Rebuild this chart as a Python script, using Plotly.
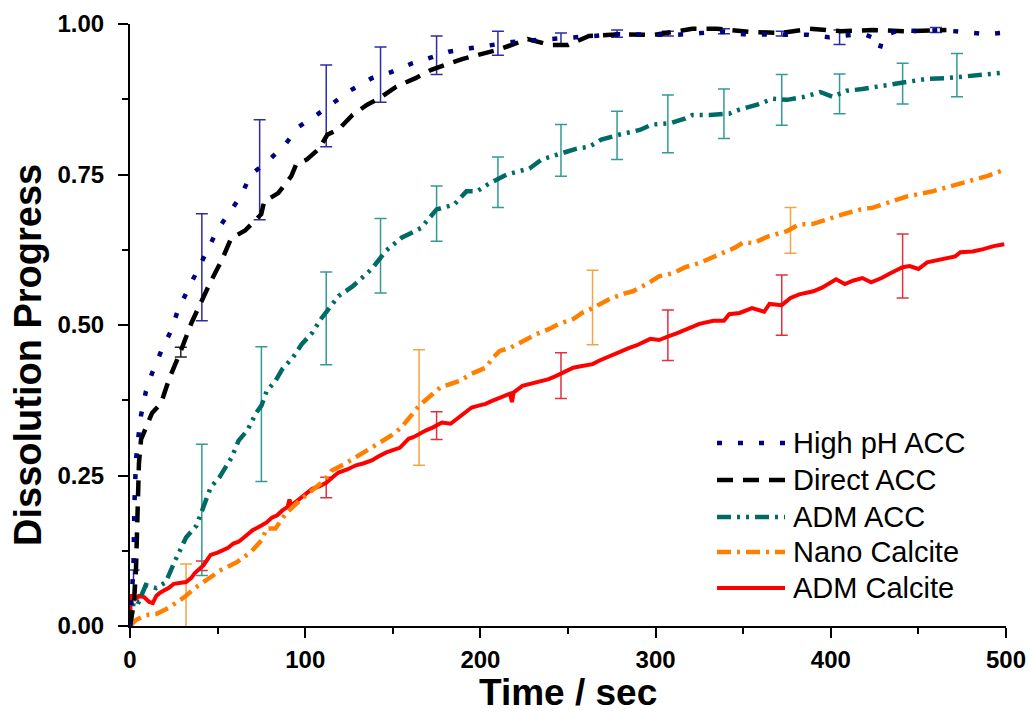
import plotly.graph_objects as go

# ---- series data: time (s) and dissolution progress ----
high_ph_t = [0, 1, 2, 2.5, 3.4, 4.6, 6.3, 9.1, 12.6, 18.3, 23.4, 27.4, 32.6, 38.3, 44, 49.7, 56.6,
             63.4, 69, 78, 88.6, 96.6, 107, 116.6, 126, 138, 149, 160.6, 172, 182, 195, 205, 218,
             230, 242, 254, 264, 276, 289, 300, 312, 326, 339, 350, 362, 375, 387, 399, 412, 420,
             426, 428, 430, 439, 451, 463, 477, 489, 497]
high_ph_v = [0, 0.05, 0.1, 0.2, 0.275, 0.31, 0.35, 0.39, 0.42, 0.46, 0.49, 0.525, 0.556, 0.586, 0.62,
             0.657, 0.686, 0.715, 0.75, 0.77, 0.80, 0.83, 0.85, 0.87, 0.89, 0.91, 0.92, 0.934, 0.945,
             0.954, 0.96, 0.965, 0.97, 0.973, 0.975, 0.977, 0.98, 0.983, 0.982, 0.982, 0.982, 0.985,
             0.987, 0.983, 0.983, 0.982, 0.982, 0.978, 0.982, 0.982, 0.975, 0.959, 0.98, 0.99, 0.988,
             0.99, 0.987, 0.983, 0.985]

direct_t = [0, 1.1, 2.3, 3.4, 4, 4.6, 5.1, 6.3, 9, 12.6, 17.7, 22.3, 29, 35, 45.7, 52.6, 57.7, 65.7,
            74.9, 76.6, 84.6, 92, 94.9, 101, 108, 112.6, 119.4, 127, 135.4, 142, 152, 163, 172, 190,
            211, 227, 240, 250, 262, 280, 299, 321, 335, 353, 371, 388, 406, 424, 442, 460, 466]
direct_v = [0, 0.02, 0.04, 0.093, 0.154, 0.2, 0.27, 0.31, 0.33, 0.354, 0.37, 0.41, 0.457, 0.503, 0.57,
            0.609, 0.644, 0.657, 0.684, 0.705, 0.719, 0.747, 0.767, 0.775, 0.793, 0.816, 0.826, 0.849,
            0.866, 0.876, 0.896, 0.91, 0.924, 0.942, 0.958, 0.975, 0.965, 0.965, 0.98, 0.983, 0.982,
            0.992, 0.992, 0.987, 0.985, 0.992, 0.988, 0.99, 0.988, 0.99, 0.99]

adm_acc_t = [0, 1.1, 2.3, 5, 9, 15, 20.5, 25, 32, 38, 41, 46, 51, 58, 62, 67, 72, 75, 78, 83, 87, 93,
             98, 104, 109, 113, 119, 127, 138, 146, 155, 166, 175, 185, 192, 198, 205, 215, 228, 235,
             246, 255, 262, 269, 279, 291, 298, 308, 317, 321, 331, 342, 348, 358, 367, 375, 385, 394,
             401, 409, 418, 426, 438, 447, 455, 466, 475, 483, 491, 498]
adm_acc_v = [0, 0.02, 0.043, 0.04, 0.068, 0.063, 0.073, 0.104, 0.147, 0.167, 0.19, 0.23, 0.247, 0.28,
             0.308, 0.325, 0.354, 0.366, 0.39, 0.407, 0.427, 0.446, 0.468, 0.487, 0.51, 0.526, 0.548,
             0.564, 0.593, 0.623, 0.645, 0.661, 0.692, 0.70, 0.722, 0.722, 0.735, 0.75, 0.76, 0.775,
             0.785, 0.793, 0.796, 0.808, 0.816, 0.824, 0.833, 0.835, 0.843, 0.849, 0.849, 0.851, 0.858,
             0.866, 0.876, 0.874, 0.879, 0.887, 0.879, 0.889, 0.892, 0.896, 0.901, 0.906, 0.909, 0.91,
             0.912, 0.915, 0.917, 0.919]

nano_t = [0, 3.4, 9, 15, 22, 31, 37, 46, 52, 61, 69, 75, 78, 83, 89, 97, 104, 111, 115, 123, 132, 142,
          149, 155, 161, 165, 177, 188, 195, 203, 207, 211, 217, 224, 232, 239, 245, 253, 258, 264,
          269, 275, 283, 287, 295, 302, 310, 317, 325, 335, 345, 350, 356, 364, 375, 382, 390, 407,
          417, 424, 435, 444, 458, 470, 481, 490, 499]
nano_v = [0, 0.01, 0.018, 0.02, 0.03, 0.048, 0.063, 0.08, 0.093, 0.106, 0.123, 0.142, 0.162, 0.162,
          0.187, 0.209, 0.225, 0.242, 0.258, 0.27, 0.286, 0.303, 0.316, 0.33, 0.352, 0.366, 0.396,
          0.407, 0.419, 0.429, 0.445, 0.457, 0.462, 0.473, 0.485, 0.493, 0.502, 0.51, 0.52, 0.528,
          0.536, 0.545, 0.553, 0.556, 0.568, 0.581, 0.586, 0.596, 0.603, 0.615, 0.628, 0.637, 0.636,
          0.647, 0.656, 0.667, 0.668, 0.684, 0.692, 0.695, 0.705, 0.714, 0.722, 0.732, 0.74, 0.748,
          0.758]

adm_cal_t = [0, 0.5, 1.5, 3, 5, 8, 11, 13, 15, 17, 20, 22, 25, 27, 32, 35, 37, 42, 46, 50, 53, 56, 59,
             62, 65, 70, 75, 78, 81, 84, 87, 90, 91, 92, 95, 98, 101, 104, 108, 112, 116, 119, 124,
             129, 133, 138, 142, 146, 150, 154, 157, 159, 162, 165, 169, 173, 178, 183, 186, 189, 192,
             195, 199, 203, 206, 211, 215, 217, 218, 219, 224, 228, 232, 236, 239, 243, 246, 250, 253,
             258, 264, 268, 271, 275, 278, 282, 285, 289, 292, 297, 302, 305, 308, 312, 315, 319, 325,
             333, 339, 342, 348, 355, 362, 365, 372, 377, 382, 390, 395, 403, 408, 413, 418, 423, 429,
             434, 441, 445, 450, 455, 462, 471, 474, 481, 487, 493, 499]
adm_cal_v = [0.01, 0.05, 0.05, 0.045, 0.05, 0.048, 0.04, 0.038, 0.05, 0.055, 0.06, 0.063, 0.07, 0.071,
             0.073, 0.08, 0.088, 0.101, 0.118, 0.122, 0.126, 0.13, 0.137, 0.14, 0.147, 0.159, 0.167,
             0.172, 0.18, 0.184, 0.192, 0.198, 0.21, 0.2, 0.207, 0.214, 0.22, 0.228, 0.232, 0.238,
             0.248, 0.255, 0.26, 0.267, 0.27, 0.275, 0.282, 0.288, 0.292, 0.296, 0.305, 0.311, 0.314,
             0.319, 0.325, 0.33, 0.338, 0.336, 0.343, 0.349, 0.356, 0.363, 0.366, 0.369, 0.373, 0.379,
             0.384, 0.386, 0.372, 0.388, 0.399, 0.402, 0.404, 0.407, 0.41, 0.415, 0.419, 0.425, 0.429,
             0.432, 0.435, 0.441, 0.445, 0.45, 0.454, 0.458, 0.462, 0.466, 0.47, 0.477, 0.475, 0.479,
             0.482, 0.486, 0.49, 0.494, 0.502, 0.507, 0.507, 0.518, 0.52, 0.528, 0.522, 0.535, 0.533,
             0.545, 0.551, 0.556, 0.562, 0.576, 0.568, 0.574, 0.578, 0.571, 0.578, 0.586, 0.596, 0.598,
             0.593, 0.604, 0.609, 0.614, 0.621, 0.622, 0.626, 0.631, 0.634]

# ---- error bars: time, mean, +/- error ----
high_ph_err_t = [2, 41, 74, 112, 143, 175, 210, 246, 278, 307, 339, 372, 405, 460]
high_ph_err_v = [0.07, 0.596, 0.758, 0.864, 0.916, 0.948, 0.968, 0.975, 0.984, 0.984, 0.988, 0.984, 0.978, 0.99]
high_ph_err_e = [0.023, 0.089, 0.083, 0.068, 0.046, 0.032, 0.02, 0.01, 0.006, 0.004, 0.004, 0.004, 0.012, 0.004]

direct_err_t = [29]
direct_err_v = [0.455]
direct_err_e = [0.008]

adm_acc_err_t = [41, 75, 112, 143, 175, 210, 246, 278, 307, 339, 372, 405, 441, 472]
adm_acc_err_v = [0.193, 0.352, 0.511, 0.615, 0.685, 0.737, 0.79, 0.815, 0.834, 0.851, 0.874, 0.884, 0.901, 0.915]
adm_acc_err_e = [0.109, 0.112, 0.077, 0.062, 0.046, 0.042, 0.043, 0.04, 0.048, 0.041, 0.042, 0.033, 0.034, 0.036]

nano_err_t = [32, 165, 264, 377]
nano_err_v = [0.05, 0.363, 0.529, 0.657]
nano_err_e = [0.053, 0.096, 0.062, 0.038]

adm_cal_err_t = [41, 112, 175, 246, 307, 372, 441]
adm_cal_err_v = [0.1, 0.23, 0.333, 0.416, 0.483, 0.533, 0.598]
adm_cal_err_e = [0.008, 0.017, 0.023, 0.038, 0.042, 0.05, 0.053]

x_ticks = [0, 100, 200, 300, 400, 500]
y_ticks = [0.0, 0.25, 0.5, 0.75, 1.0]

# name, color, error-bar color, dash pattern, width, data, error data
series = [
    ("ADM Calcite", "#ff0000", "#e2303c", "solid", 4, adm_cal_t, adm_cal_v,
     adm_cal_err_t, adm_cal_err_v, adm_cal_err_e),
    ("Nano Calcite", "#ff7f00", "#f5a445", "14px,6px,3px,6px", 4.5, nano_t, nano_v,
     nano_err_t, nano_err_v, nano_err_e),
    ("ADM ACC", "#006a66", "#339a96", "14px,6px,3px,6px,3px,6px", 4.5, adm_acc_t, adm_acc_v,
     adm_acc_err_t, adm_acc_err_v, adm_acc_err_e),
    ("Direct ACC", "#000000", "#222222", "16px,10px", 4.5, direct_t, direct_v,
     direct_err_t, direct_err_v, direct_err_e),
    ("High pH ACC", "#000080", "#2c2ca6", "5px,16px", 4.5, high_ph_t, high_ph_v,
     high_ph_err_t, high_ph_err_v, high_ph_err_e),
]

fig = go.Figure()

# error bars underneath the curves
for name, col, ecol, dash, w, t, v, et, ev, ee in series:
    fig.add_trace(go.Scatter(
        x=et, y=ev, mode="markers", showlegend=False, hoverinfo="skip",
        marker=dict(size=1, color="rgba(0,0,0,0)"),
        error_y=dict(type="data", array=ee, visible=True, color=ecol, thickness=1.5, width=6),
    ))

for name, col, ecol, dash, w, t, v, et, ev, ee in series:
    fig.add_trace(go.Scatter(
        x=t, y=v, mode="lines", name=name, showlegend=False,
        line=dict(color=col, width=w, dash=dash),
    ))

# plot-area geometry in pixels, used to place the hand-built legend and titles
PL, PR, PT, PB = 130, 1006, 24, 626
x_of = lambda px: (px - PL) / (PR - PL)
y_of = lambda py: (PB - py) / (PB - PT)

legend_order = ["High pH ACC", "Direct ACC", "ADM ACC", "Nano Calcite", "ADM Calcite"]
legend_rows = [443, 480, 517, 552, 588]
style = {s[0]: s for s in series}
for name, py in zip(legend_order, legend_rows):
    _, col, _, dash, w, *_ = style[name]
    fig.add_shape(type="line", xref="paper", yref="paper",
                  x0=x_of(717), x1=x_of(785), y0=y_of(py), y1=y_of(py),
                  line=dict(color=col, width=w, dash=dash))
    fig.add_annotation(xref="paper", yref="paper", x=x_of(791), y=y_of(py),
                       xanchor="left", yanchor="middle", showarrow=False, text=name,
                       font=dict(family="Liberation Sans, Arial", size=29, color="#000000"))

# axis titles
fig.add_annotation(xref="paper", yref="paper", x=x_of(568), y=y_of(692), showarrow=False,
                   text="Time / sec", xanchor="center", yanchor="middle",
                   font=dict(family="Liberation Sans, Arial", size=37, color="#000000", weight="bold"))
fig.add_annotation(xref="paper", yref="paper", x=x_of(28), y=y_of(355), showarrow=False,
                   text="Dissolution Progress", textangle=-90, xanchor="center", yanchor="middle",
                   font=dict(family="Liberation Sans, Arial", size=38, color="#000000", weight="bold"))

tick_font = dict(family="Liberation Sans, Arial", size=24, color="#000000", weight="bold")
fig.update_xaxes(
    range=[0, 500], tickvals=x_ticks, ticktext=[str(v) for v in x_ticks],
    showline=True, linecolor="#000000", linewidth=2, mirror=False,
    ticks="outside", ticklen=10, tickwidth=2, tickcolor="#000000",
    minor=dict(dtick=50, tick0=0, ticks="outside", ticklen=6, tickwidth=2, tickcolor="#000000"),
    showgrid=False, zeroline=False, tickfont=tick_font, ticklabelstandoff=1,
    ticklabeloverflow="allow", automargin=False,
)
fig.update_yaxes(
    range=[0, 1], tickvals=y_ticks, ticktext=[f"{v:.2f}" for v in y_ticks],
    showline=True, linecolor="#000000", linewidth=2, mirror=False,
    ticks="outside", ticklen=10, tickwidth=2, tickcolor="#000000",
    minor=dict(dtick=0.125, tick0=0, ticks="outside", ticklen=6, tickwidth=2, tickcolor="#000000"),
    showgrid=False, zeroline=False, tickfont=tick_font, ticklabelstandoff=9,
    ticklabeloverflow="allow", automargin=False,
)
fig.update_layout(
    width=1030, height=717,
    margin=dict(l=PL, r=1030 - PR, t=PT, b=717 - PB),
    plot_bgcolor="#ffffff", paper_bgcolor="#ffffff",
    showlegend=False,
)

fig.write_html("out.html")
